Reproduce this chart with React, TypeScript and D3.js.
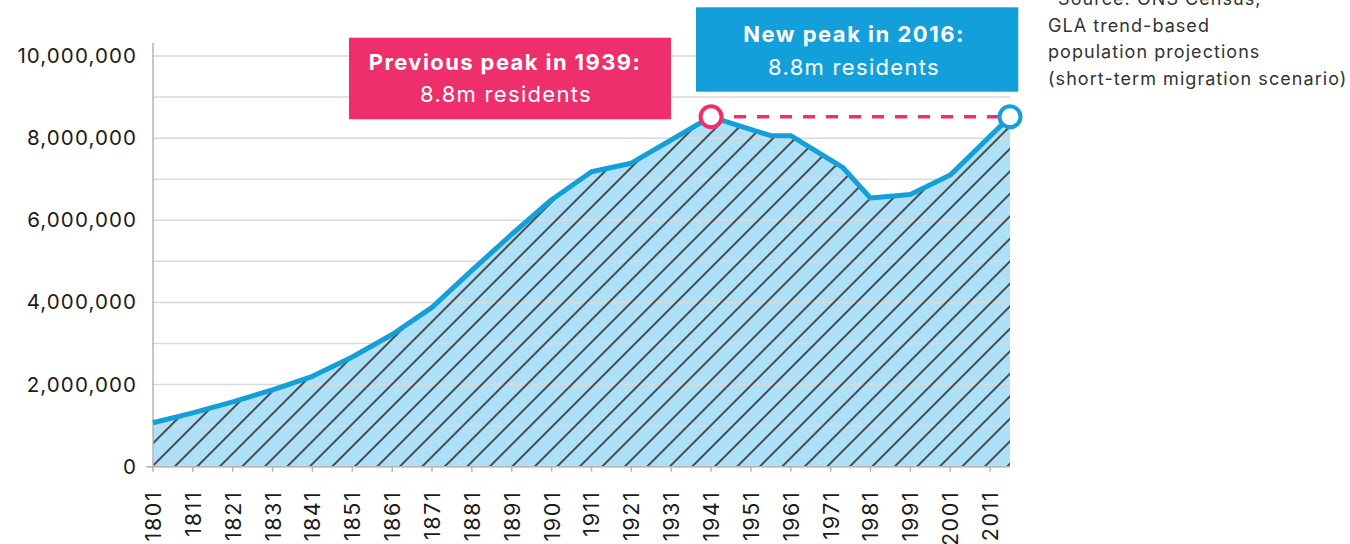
import React from 'react';
import * as d3 from 'd3';

// population (millions) - irregular years where the line bends
const years = [1801, 1811, 1821, 1831, 1841, 1851, 1861, 1871, 1881, 1891, 1901, 1911, 1921, 1941, 1956, 1961, 1974, 1981, 1991, 2001, 2016];
const population = [1.07, 1.31, 1.58, 1.87, 2.2, 2.67, 3.22, 3.88, 4.78, 5.66, 6.5, 7.18, 7.39, 8.52, 8.06, 8.06, 7.29, 6.54, 6.63, 7.1, 8.52];

const decadeTicks = d3.range(1801, 2012, 10);
const yGrid = d3.range(0, 10000001, 1000000);
const yLabels = d3.range(0, 10000001, 2000000);

const prevPeak = { year: 1941, value: 8.52, title: 'Previous peak in 1939:', sub: '8.8m residents' };
const newPeak = { year: 2016, value: 8.52, title: 'New peak in 2016:', sub: '8.8m residents' };
const sourceLines = ['*Source: ONS Census,', 'GLA trend-based', 'population projections', '(short-term migration scenario)'];

const W = 1350;
const H = 544;
const BLUE = '#139fda';
const PINK = '#ee2f6b';
const FONT = 'Inter, "Noto Sans", sans-serif';

export default function App() {
  const x = d3.scaleLinear().domain([1801, 2016]).range([153, 1010]);
  const y = d3.scaleLinear().domain([0, 10000000]).range([466.7, 56]);

  const pts = years.map((yr, i) => ({ yr, v: population[i] * 1e6 }));

  const area = d3.area<{ yr: number; v: number }>()
    .x(d => x(d.yr))
    .y0(y(0))
    .y1(d => y(d.v));
  const line = d3.line<{ yr: number; v: number }>()
    .x(d => x(d.yr))
    .y(d => y(d.v));

  const hatch = 22.5 / Math.SQRT2;
  const x0 = x.range()[0];
  const x1 = x.range()[1];
  const peakY = y(prevPeak.value * 1e6);

  return (
    <svg width={W} height={H} style={{ position: 'absolute', left: 0, top: 0, background: '#fff' }} fontFamily={FONT}>
      <defs>
        <pattern id="hatch" patternUnits="userSpaceOnUse" width={hatch} height={hatch} patternTransform="rotate(45)">
          <line x1={hatch / 2} y1={0} x2={hatch / 2} y2={hatch} stroke="#2a2a2a" strokeWidth={1.6} />
        </pattern>
      </defs>

      {/* area fill */}
      <path d={area(pts) || ''} fill="#aee1f8" />

      {/* grid */}
      {yGrid.map(v => (
        <line key={v} x1={x0} x2={x1} y1={y(v)} y2={y(v)} stroke="#d9d9d9" strokeWidth={1.5} />
      ))}

      <path d={area(pts) || ''} fill="url(#hatch)" />

      {/* axes */}
      <line x1={x0} x2={x0} y1={43} y2={y(0)} stroke="#b5b5b5" strokeWidth={1.5} />
      <line x1={146} x2={x1} y1={y(0)} y2={y(0)} stroke="#b5b5b5" strokeWidth={1.5} />
      {decadeTicks.map(t => (
        <g key={t} transform={`translate(${x(t)},${y(0)})`}>
          <line y1={0} y2={5} stroke="#b5b5b5" strokeWidth={1.5} />
          <text transform="translate(8,24) rotate(-90)" textAnchor="end" fontSize={21.5} letterSpacing={1.6} fill="#1a1a1a">{t}</text>
        </g>
      ))}
      {yLabels.map(v => (
        <text key={v} x={137} y={y(v) + 7} textAnchor="end" fontSize={20.5} letterSpacing={1.1} fill="#1a1a1a">
          {d3.format(',')(v)}
        </text>
      ))}

      {/* line */}
      <path d={line(pts) || ''} fill="none" stroke={BLUE} strokeWidth={5} strokeLinejoin="round" />

      {/* peak connector */}
      <line x1={x(prevPeak.year)} x2={x(newPeak.year)} y1={peakY} y2={peakY} stroke={PINK} strokeWidth={3.5} strokeDasharray="12 11" />
      <circle cx={x(prevPeak.year)} cy={peakY} r={10.5} fill="#fff" stroke={PINK} strokeWidth={4} />
      <circle cx={x(newPeak.year)} cy={y(newPeak.value * 1e6)} r={10.5} fill="#fff" stroke={BLUE} strokeWidth={4} />

      {/* annotation boxes */}
      <rect x={349} y={37.7} width={322} height={81.6} fill={PINK} />
      <text x={505} y={69.5} textAnchor="middle" fontSize={22} fontWeight={700} letterSpacing={1.4} fill="#fff">{prevPeak.title}</text>
      <text x={506} y={101.5} textAnchor="middle" fontSize={22} letterSpacing={1.3} fill="#fff">{prevPeak.sub}</text>

      <rect x={696} y={7.3} width={322.3} height={84.4} fill={BLUE} />
      <text x={854} y={41.5} textAnchor="middle" fontSize={22} fontWeight={700} letterSpacing={1.5} fill="#fff">{newPeak.title}</text>
      <text x={854} y={75} textAnchor="middle" fontSize={22} letterSpacing={1.3} fill="#fff">{newPeak.sub}</text>

      {/* source */}
      {sourceLines.map((s, i) => (
        <text key={s} x={1048} y={5 + i * 26.7} fontSize={18} letterSpacing={1.05} fill="#333">{s}</text>
      ))}
    </svg>
  );
}
